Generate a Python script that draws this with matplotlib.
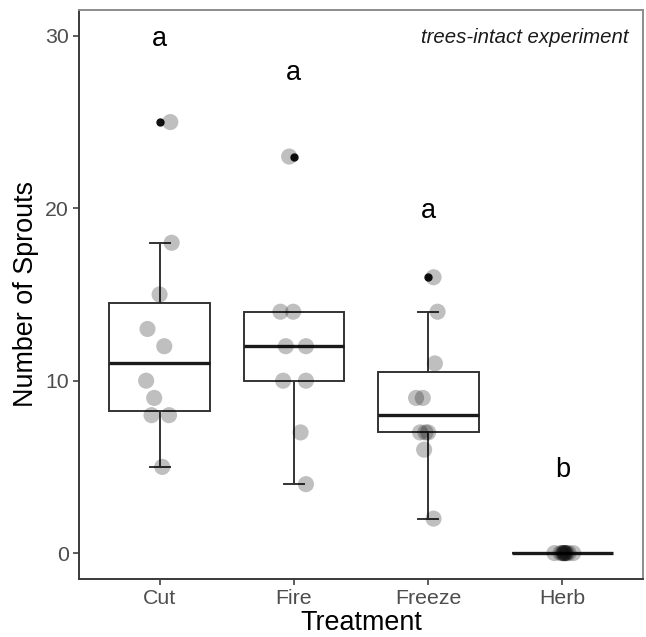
import matplotlib
matplotlib.use("Agg")
import matplotlib.pyplot as plt
import numpy as np

# ---- data ----
categories = ["Cut", "Fire", "Freeze", "Herb"]
cut_values = [25, 18, 15, 13, 12, 10, 9, 8, 8, 5]
fire_values = [23, 14, 14, 12, 12, 10, 10, 7, 4]
freeze_values = [16, 14, 11, 9, 9, 7, 7, 7, 6, 2]
herb_values = [0, 0, 0, 0, 0, 0, 0, 0, 0, 0]

# horizontal jitter of each point as seen in the picture (category units)
cut_jitter = [0.08, 0.09, 0.0, -0.09, 0.035, -0.10, -0.04, -0.06, 0.07, 0.02]
fire_jitter = [-0.035, -0.10, -0.005, -0.06, 0.09, -0.08, 0.09, 0.05, 0.09]
freeze_jitter = [0.04, 0.07, 0.05, -0.09, -0.04, -0.06, -0.02, 0.0, -0.03, 0.04]
herb_jitter = [-0.06, -0.015, 0.0, 0.007, 0.015, 0.015, 0.022, 0.03, 0.045, 0.08]

letters = ["a", "a", "a", "b"]
letter_y = [30, 28, 20, 5]
annotation = "trees-intact experiment"

y_ticks = [0, 10, 20, 30]

# ---- plot ----
plt.rcParams["font.family"] = ["Liberation Sans", "DejaVu Sans"]

fig = plt.figure(figsize=(6.46, 6.37), dpi=100)
ax = fig.add_axes([0.1223, 0.0911, 0.8731, 0.8932])

all_values = [cut_values, fire_values, freeze_values, herb_values]
all_jitter = [cut_jitter, fire_jitter, freeze_jitter, herb_jitter]
positions = np.arange(1, len(categories) + 1)

line_col = "#333333"
ax.boxplot(
    all_values,
    positions=positions,
    widths=0.75,
    whis=1.5,
    patch_artist=True,
    capwidths=0.15,
    boxprops=dict(facecolor="white", edgecolor=line_col, linewidth=1.4),
    whiskerprops=dict(color=line_col, linewidth=1.4),
    capprops=dict(color=line_col, linewidth=1.4),
    medianprops=dict(color="#1a1a1a", linewidth=2.4),
    flierprops=dict(marker="o", markerfacecolor="#111111",
                    markeredgecolor="#111111", markersize=5),
    zorder=2,
)

for pos, vals, jit in zip(positions, all_values, all_jitter):
    ax.scatter(pos + np.array(jit), vals, s=135, color="black", alpha=0.25,
               edgecolors="none", zorder=3)

for pos, lab, ly in zip(positions, letters, letter_y):
    ax.annotate(lab, (pos, ly), xytext=(0, -2.2), textcoords="offset points",
                ha="center", va="center", fontsize=19.5, color="black")

ax.text(0.974, 0.952, annotation, transform=ax.transAxes, ha="right",
        va="center", fontsize=14.7, style="italic", color="#1a1a1a")

ax.set_xlim(0.4, 4.6)
ax.set_ylim(-1.5, 31.5)
ax.set_xticks(positions)
ax.set_xticklabels(categories)
ax.set_yticks(y_ticks)
ax.set_yticklabels([str(t) for t in y_ticks])

ax.tick_params(axis="both", length=4, width=1.1, color="#333333",
               labelsize=15.3, labelcolor="#4d4d4d", pad=3.5)

for s in ["left", "bottom"]:
    ax.spines[s].set_color("#3a3a3a")
    ax.spines[s].set_linewidth(1.4)
for s in ["top", "right"]:
    ax.spines[s].set_color("#8c8c8c")
    ax.spines[s].set_linewidth(1.4)

ax.set_xlabel("Treatment", fontsize=19.4, color="black", labelpad=1.5)
ax.set_ylabel("Number of Sprouts", fontsize=19.4, color="black", labelpad=4)

fig.savefig("out.png", dpi=100)
